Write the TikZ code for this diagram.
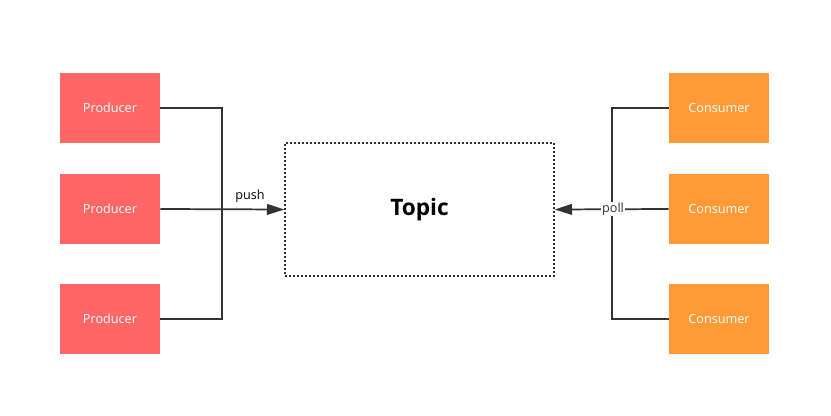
\documentclass[tikz,border=0pt]{standalone}
\usepackage{fontspec}
\setmainfont{Open Sans}
\usetikzlibrary{arrows.meta,positioning,calc}
\definecolor{prodred}{HTML}{FF6666}
\definecolor{consorange}{HTML}{FF9A36}
\definecolor{linegray}{HTML}{333333}
\tikzset{
prodbox/.style={rectangle,fill=prodred,text=white,minimum width=75pt,minimum height=52.5pt,inner sep=0pt,font=\fontsize{9.5}{11}\selectfont},
consbox/.style={rectangle,fill=consorange,text=white,minimum width=75pt,minimum height=52.5pt,inner sep=0pt,font=\fontsize{9.5}{11}\selectfont},
link/.style={draw=linegray,line width=1.3pt},
tip/.style={-{Triangle[length=13pt,width=8pt]}}
}
\begin{document}
\begin{tikzpicture}[x=0.75pt,y=-0.75pt]
\useasboundingbox (0,0) rectangle (831,416);
\node (p1) at (110,108) [prodbox] {Producer};
\node (p2) at (110,209) [prodbox] {Producer};
\node (p3) at (110,319) [prodbox] {Producer};
\node (c1) at (719,108) [consbox] {Consumer};
\node (c2) at (719,209) [consbox] {Consumer};
\node (c3) at (719,319) [consbox] {Consumer};
\node (topic) at (419.5,209.5) [rectangle,draw=linegray,line width=1pt,dash pattern=on 1.3pt off 1.7pt,minimum width=201.75pt,minimum height=99.75pt,font=\fontsize{17}{20}\selectfont\bfseries] {Topic};

\coordinate (pj1) at (222,108);
\coordinate (pj3) at (222,319);
\coordinate (cj1) at (612,108);
\coordinate (cj3) at (612,319);

\draw[link] (p1.east) -- (pj1) -- (pj3) -- (p3.east);
\draw[link,tip] (p2.east) -- (topic.west);
\draw[link] (c1.west) -- (cj1) -- (cj3) -- (c3.west);
\draw[link,tip] (c2.west) -- (topic.east);

\node (push) at (250,196) [font=\fontsize{9.5}{11}\selectfont,text=black] {push};
\node (poll) at (613,209) [fill=white,inner sep=0.5pt,font=\fontsize{9.5}{11}\selectfont,text=linegray] {poll};
\end{tikzpicture}
\end{document}
